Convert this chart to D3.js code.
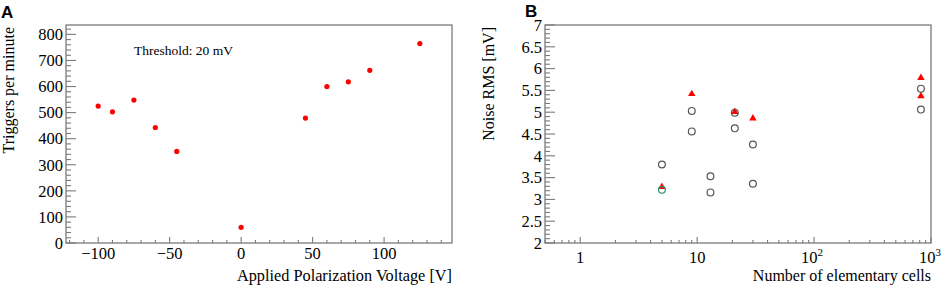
<!DOCTYPE html>
<html><head><meta charset="utf-8">
<script src="https://cdn.jsdelivr.net/npm/d3@7"></script>
<style>
html,body{margin:0;padding:0;background:#fff;}
svg{display:block;}
text{font-family:"Liberation Serif","Times New Roman",serif;fill:#000;}
.lbl{font-family:"Liberation Sans",Arial,sans-serif;font-weight:bold;}
</style></head>
<body>
<svg id="c" width="942" height="286"></svg>
<script>
// Panel A data
const voltages = [-100, -90, -75, -60, -45, 0, 45, 60, 75, 90, 125];
const triggers = [525, 503, 548, 443, 351, 60, 479, 600, 618, 662, 765];
const xTicksA = [-100, -50, 0, 50, 100];
const yTicksA = [0, 100, 200, 300, 400, 500, 600, 700, 800];

// Panel B data
const cellsCircle = [5, 9, 9, 13, 13, 21, 21, 30, 30, 820, 820];
const noiseCircle = [3.80, 5.03, 4.56, 3.53, 3.16, 4.99, 4.63, 4.26, 3.36, 5.54, 5.06];
const cellsGreen = [5];
const noiseGreen = [3.22];
const cellsTri = [5, 9, 21, 30, 820, 820];
const noiseTri = [3.30, 5.43, 5.02, 4.87, 5.80, 5.38];
const yTicksB = [2, 2.5, 3, 3.5, 4, 4.5, 5, 5.5, 6, 6.5, 7];
const xTicksB = [1, 10, 100, 1000];

const svg = d3.select("#c");
const frameCol = "#7a7a7a";

function frame(g, x0, x1, y0, y1) {
  g.append("rect").attr("x", x0).attr("y", y0).attr("width", x1 - x0).attr("height", y1 - y0)
    .attr("fill", "none").attr("stroke", frameCol).attr("stroke-width", 1.3);
}
function yTicks(g, y, vals, x0, len) {
  g.selectAll(null).data(vals).enter().append("line")
    .attr("x1", x0).attr("x2", x0 + len).attr("y1", d => y(d)).attr("y2", d => y(d))
    .attr("stroke", frameCol).attr("stroke-width", 1.1);
}
function xTicks(g, x, vals, y0, len) {
  g.selectAll(null).data(vals).enter().append("line")
    .attr("x1", d => x(d)).attr("x2", d => x(d)).attr("y1", y0).attr("y2", y0 - len)
    .attr("stroke", frameCol).attr("stroke-width", 1.1);
}

// ---------- Panel A ----------
{
  const L = 66, R = 452, T = 25, B = 243;
  const x = d3.scaleLinear().domain([-122.5, 147.5]).range([L, R]);
  const y = d3.scaleLinear().domain([0, 836]).range([B, T]);
  const g = svg.append("g");
  frame(g, L, R, T, B);
  const minorY = d3.range(0, 836, 20).filter(v => v % 100 !== 0);
  yTicks(g, y, minorY, L, 5);
  yTicks(g, y, yTicksA, L, 10);
  const minorX = d3.range(-120, 148, 10).filter(v => v % 50 !== 0);
  xTicks(g, x, minorX, B, 3);
  xTicks(g, x, xTicksA, B, 6);
  g.selectAll(null).data(yTicksA).enter().append("text")
    .attr("x", L - 3).attr("y", d => y(d)).attr("dy", "0.35em").attr("text-anchor", "end")
    .attr("font-size", 16.5).text(d => d);
  g.selectAll(null).data(xTicksA).enter().append("text")
    .attr("x", d => x(d)).attr("y", 259).attr("text-anchor", "middle")
    .attr("font-size", 16.5).text(d => d < 0 ? "\u2212" + Math.abs(d) : d);
  g.append("text").attr("x", R).attr("y", 281).attr("text-anchor", "end")
    .attr("font-size", 16.3).text("Applied Polarization Voltage [V]");
  g.append("text").attr("transform", "translate(14,27) rotate(-90)").attr("text-anchor", "end")
    .attr("font-size", 16).text("Triggers per minute");
  g.append("text").attr("x", 134).attr("y", 55).attr("font-size", 13.5).text("Threshold: 20 mV");
  g.selectAll(null).data(voltages).enter().append("circle")
    .attr("cx", (d) => x(d)).attr("cy", (d, i) => y(triggers[i])).attr("r", 2.6).attr("fill", "#ff0000");
  svg.append("text").attr("class", "lbl").attr("x", 1).attr("y", 18).attr("font-size", 17).text("A");
}

// ---------- Panel B ----------
{
  const L = 545, R = 931, T = 25, B = 243;
  const x = d3.scaleLog().domain([0.5, 1000]).range([L, R]);
  const y = d3.scaleLinear().domain([2, 7]).range([B, T]);
  const g = svg.append("g");
  frame(g, L, R, T, B);
  const minorY = d3.range(2, 7.001, 0.1).filter(v => Math.abs(v * 2 - Math.round(v * 2)) > 1e-6);
  yTicks(g, y, minorY, L, 5);
  yTicks(g, y, yTicksB, L, 10);
  const minorX = [];
  [0.1, 1, 10, 100].forEach(dec => { for (let k = 2; k <= 9; k++) { const v = k * dec; if (v >= 0.5 && v < 1000) minorX.push(v); } });
  xTicks(g, x, minorX, B, 3);
  xTicks(g, x, xTicksB, B, 6);
  g.selectAll(null).data(yTicksB).enter().append("text")
    .attr("x", L - 3).attr("y", d => y(d)).attr("dy", "0.35em").attr("text-anchor", "end")
    .attr("font-size", 16.5).text(d => d);
  const xl = g.selectAll(null).data(xTicksB).enter().append("text")
    .attr("x", d => x(d)).attr("y", 262.5).attr("text-anchor", "middle").attr("font-size", 16.5);
  xl.each(function(d) {
    const t = d3.select(this);
    if (d < 100) t.text(d);
    else {
      t.attr("dx", d >= 1000 ? -1 : -2);
      t.append("tspan").text("10");
      t.append("tspan").attr("dy", -7).attr("font-size", 11).text(Math.round(Math.log10(d)));
    }
  });
  g.append("text").attr("x", R).attr("y", 281).attr("text-anchor", "end")
    .attr("font-size", 16).text("Number of elementary cells");
  g.append("text").attr("transform", "translate(494,27) rotate(-90)").attr("text-anchor", "end")
    .attr("font-size", 16).text("Noise RMS [mV]");
  const tri = d3.symbol().type(d3.symbolTriangle).size(24);
  g.selectAll(null).data(cellsTri).enter().append("path")
    .attr("d", tri).attr("transform", (d, i) => `translate(${x(d)},${y(noiseTri[i]) + 0.5})`).attr("fill", "#ff0000");
  g.selectAll(null).data(cellsCircle).enter().append("circle")
    .attr("cx", d => x(d)).attr("cy", (d, i) => y(noiseCircle[i])).attr("r", 3.4)
    .attr("fill", "none").attr("stroke", "#555").attr("stroke-width", 1.2);
  g.selectAll(null).data(cellsGreen).enter().append("circle")
    .attr("cx", d => x(d)).attr("cy", (d, i) => y(noiseGreen[i])).attr("r", 3.4)
    .attr("fill", "none").attr("stroke", "#2a8f70").attr("stroke-width", 1.2);
  svg.append("text").attr("class", "lbl").attr("x", 525).attr("y", 17).attr("font-size", 17).text("B");
}
</script>
</body></html>
